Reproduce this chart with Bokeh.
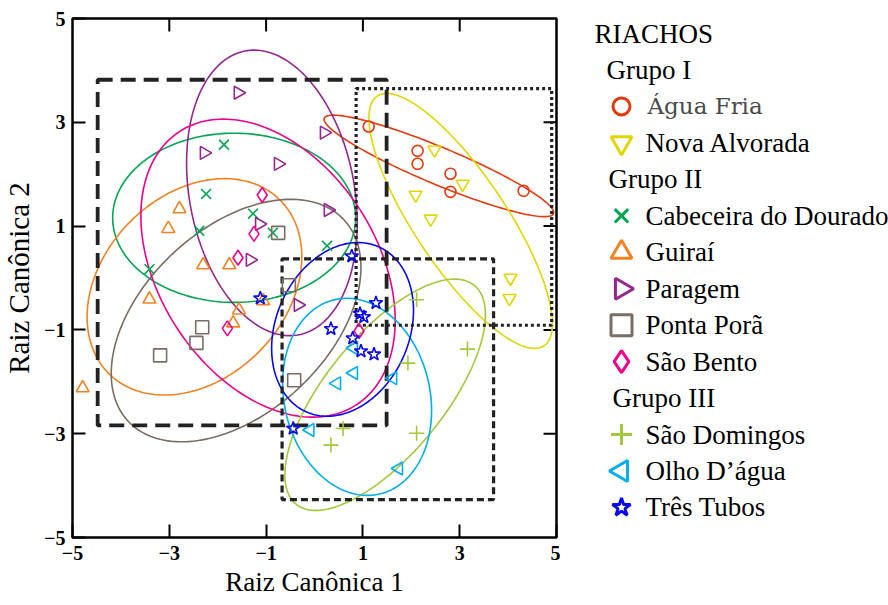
import numpy as np
from bokeh.plotting import figure
from bokeh.models import Range1d, FixedTicker, ColumnDataSource
from bokeh.layouts import row
from bokeh.embed import file_html
from bokeh.resources import INLINE
from bokeh.core.properties import value

# Canonical scores (root 1, root 2) of each sample, by stream
agua_fria_x = [1.12, 2.13, 2.13, 2.81, 2.81, 4.32]
agua_fria_y = [2.92, 2.45, 2.20, 2.01, 1.66, 1.68]
nova_alvorada_x = [2.48, 3.06, 2.09, 2.40, 4.05, 4.03]
nova_alvorada_y = [2.47, 1.81, 1.60, 1.14, 0.00, -0.39]
cabeceira_x = [-1.87, -2.24, -1.27, -2.38, -0.86, 0.26, -3.41]
cabeceira_y = [2.57, 1.62, 1.24, 0.91, 0.87, 0.62, 0.17]
guirai_x = [-2.79, -3.02, -2.30, -1.76, -3.41, -1.56, -1.68, -1.06, -4.79]
guirai_y = [1.33, 0.95, 0.25, 0.25, -0.41, -0.62, -0.87, -0.44, -2.12]
paragem_x = [-1.58, 0.20, -2.28, -0.75, 0.28, -1.14, -1.33, -0.34]
paragem_y = [3.57, 2.80, 2.41, 2.20, 1.31, 1.04, 0.35, -0.52]
ponta_pora_x = [-0.75, -0.53, -2.32, -2.44, -3.19, -0.42]
ponta_pora_y = [0.87, -0.14, -0.95, -1.25, -1.49, -1.97]
sao_bento_x = [-1.08, -1.25, -1.58, -1.80, 0.92]
sao_bento_y = [1.60, 0.85, 0.39, -0.97, -1.02]
sao_domingos_x = [2.11, 3.16, 1.93, 2.11, 0.59, 0.34]
sao_domingos_y = [-0.42, -1.37, -1.64, -2.99, -2.90, -3.22]
olho_dagua_x = [0.81, 0.81, 0.46, 1.62, -0.09, 1.74]
olho_dagua_y = [-1.35, -1.83, -2.03, -1.93, -2.93, -3.67]
tres_tubos_x = [0.77, -1.12, 1.27, 0.94, 1.02, 0.34, 0.79, 0.96, 1.23, -0.44]
tres_tubos_y = [0.42, -0.39, -0.48, -0.69, -0.75, -0.98, -1.16, -1.41, -1.47, -2.90]

# Confidence ellipses: centre x, centre y, semi-major, semi-minor, angle (deg)
ellipse_agua_fria = (2.57, 2.16, 2.54, 0.36, -21.2)
ellipse_nova_alvorada = (3.02, 1.10, 2.96, 0.93, -54.0)
ellipse_cabeceira = (-1.66, 1.16, 2.51, 1.63, 0.0)
ellipse_guirai = (-2.48, -0.17, 2.44, 1.82, 38.7)
ellipse_paragem = (-0.88, 1.64, 2.79, 1.70, -77.8)
ellipse_ponta_pora = (-1.62, -0.82, 2.96, 1.83, 38.6)
ellipse_sao_bento = (-0.96, 0.19, 3.21, 2.20, -52.1)
ellipse_sao_domingos = (1.46, -2.25, 2.80, 1.19, 48.0)
ellipse_olho_dagua = (0.88, -2.29, 1.93, 1.50, -73.5)
ellipse_tres_tubos = (0.58, -0.99, 1.76, 1.36, 60.7)

# Group boxes (left, right, bottom, top)
grupo_i_box = (0.86, 4.90, -0.91, 3.65)
grupo_ii_box = (-4.48, 1.49, -2.84, 3.82)
grupo_iii_box = (-0.67, 3.70, -4.27, 0.37)

tick_values = [-5, -3, -1, 1, 3, 5]
X_MIN, X_MAX, Y_MIN, Y_MAX = -5, 5, -5, 5

HALF_PI = np.pi / 2
series = [
    # name, x, y, marker, angle, colour, ellipse, group
    ("Água Fria", agua_fria_x, agua_fria_y, "circle", 0.0, "#E8380D", ellipse_agua_fria, "Grupo I"),
    ("Nova Alvorada", nova_alvorada_x, nova_alvorada_y, "inverted_triangle", 0.0, "#E3D600", ellipse_nova_alvorada, "Grupo I"),
    ("Cabeceira do Dourado", cabeceira_x, cabeceira_y, "x", 0.0, "#00A650", ellipse_cabeceira, "Grupo II"),
    ("Guiraí", guirai_x, guirai_y, "triangle", 0.0, "#F58220", ellipse_guirai, "Grupo II"),
    ("Paragem", paragem_x, paragem_y, "triangle", -HALF_PI, "#93278F", ellipse_paragem, "Grupo II"),
    ("Ponta Porã", ponta_pora_x, ponta_pora_y, "square", 0.0, "#7B6C64", ellipse_ponta_pora, "Grupo II"),
    ("São Bento", sao_bento_x, sao_bento_y, "diamond", 0.0, "#EC008C", ellipse_sao_bento, "Grupo II"),
    ("São Domingos", sao_domingos_x, sao_domingos_y, "cross", 0.0, "#A3C93A", ellipse_sao_domingos, "Grupo III"),
    ("Olho D’água", olho_dagua_x, olho_dagua_y, "triangle", HALF_PI, "#00AEEF", ellipse_olho_dagua, "Grupo III"),
    ("Três Tubos", tres_tubos_x, tres_tubos_y, "star", 0.0, "#0A0AF0", ellipse_tres_tubos, "Grupo III"),
]

SERIF = "Liberation Serif"
BORDER_TOP, BORDER_BOTTOM = 18, 68
HEIGHT = 605


def ellipse_outline(cx, cy, a, b, angle_deg, n=200):
    t = np.linspace(0, 2 * np.pi, n)
    th = np.radians(angle_deg)
    ex = cx + a * np.cos(t) * np.cos(th) - b * np.sin(t) * np.sin(th)
    ey = cy + a * np.cos(t) * np.sin(th) + b * np.sin(t) * np.cos(th)
    return ex, ey


p = figure(width=560, height=HEIGHT, x_range=Range1d(X_MIN, X_MAX), y_range=Range1d(Y_MIN, Y_MAX),
           output_backend="svg", toolbar_location=None,
           min_border_left=71, min_border_right=4,
           min_border_top=BORDER_TOP, min_border_bottom=BORDER_BOTTOM,
           background_fill_color="white", border_fill_color="white")
p.grid.visible = False
p.outline_line_color = "black"
p.outline_line_width = 2.5
p.outline_line_alpha = 1.0

for ax in (p.xaxis[0], p.yaxis[0]):
    ax.ticker = FixedTicker(ticks=tick_values)
    ax.axis_line_color = None
    ax.major_tick_in = 13
    ax.major_tick_out = 0
    ax.major_tick_line_width = 2
    ax.major_tick_line_color = "black"
    ax.minor_tick_line_color = None
    ax.major_label_text_font = SERIF
    ax.major_label_text_font_style = "bold"
    ax.major_label_text_font_size = "20px"
    ax.major_label_text_color = "black"
    ax.axis_label_text_font = SERIF
    ax.axis_label_text_font_style = "normal"
    ax.axis_label_text_color = "black"

p.xaxis.axis_label = "Raiz Canônica 1"
p.xaxis.axis_label_text_font_size = "27px"
p.xaxis.major_label_standoff = 8
p.xaxis.axis_label_standoff = 4
p.yaxis.axis_label = "Raiz Canônica 2"
p.yaxis.axis_label_text_font_size = "29px"
p.yaxis.major_label_standoff = 7
p.yaxis.axis_label_standoff = 6

# inward tick marks along the top and right edges of the frame
TICK_DX = 13 / 48.5
TICK_DY = 13 / 51.8
inner = [v for v in tick_values if X_MIN < v < X_MAX]
p.segment(x0=inner, x1=inner, y0=[Y_MAX] * len(inner), y1=[Y_MAX - TICK_DY] * len(inner),
          line_color="black", line_width=2)
p.segment(x0=[X_MAX] * len(inner), x1=[X_MAX - TICK_DX] * len(inner), y0=inner, y1=inner,
          line_color="black", line_width=2)

# ellipses first, then group boxes, then samples
for name, xs, ys, marker, ang, color, ell, grp in series:
    ex, ey = ellipse_outline(*ell)
    p.line(ex, ey, line_color=color, line_width=1.6)

box_styles = [(grupo_i_box, "3 3", 3.2), (grupo_ii_box, "15 8", 3.8), (grupo_iii_box, "7 4", 3.2)]
for (l, r, b, t), dash, w in box_styles:
    p.quad(left=[l], right=[r], bottom=[b], top=[t], fill_color=None,
           line_color="#222222", line_width=w, line_dash=dash)

marker_size = {"circle": 11, "star": 14, "x": 14, "cross": 15, "diamond": 15}
for name, xs, ys, marker, ang, color, ell, grp in series:
    p.scatter(xs, ys, marker=marker, angle=ang, size=marker_size.get(marker, 13),
              line_color=color, fill_color=None, line_width=1.6)

# Legend panel: its y axis runs in page pixels, top to bottom
lg = figure(width=328, height=HEIGHT, x_range=Range1d(0, 328),
            y_range=Range1d(HEIGHT - BORDER_BOTTOM, BORDER_TOP),
            output_backend="svg", toolbar_location=None,
            min_border_left=0, min_border_right=0,
            min_border_top=BORDER_TOP, min_border_bottom=BORDER_BOTTOM,
            x_axis_type=None, y_axis_type=None, outline_line_color=None,
            background_fill_color="white", border_fill_color="white")
lg.grid.visible = False

ROW0, STEP = 33, 36.46
rows = [("title", "RIACHOS")]
current = None
for s in series:
    if s[7] != current:
        current = s[7]
        rows.append(("group", current))
    rows.append(("item", s))

head_x = {"RIACHOS": 34, "Grupo I": 46, "Grupo II": 48, "Grupo III": 52}
hx, hy, ht = [], [], []
mk = dict(x=[], y=[], marker=[], angle=[], color=[], size=[])
items = dict(x=[], y=[], text=[], font=[], size=[], color=[])
legend_size = {"circle": 17, "star": 19, "x": 19, "cross": 21, "diamond": 22}
for i, (kind, item) in enumerate(rows):
    y = ROW0 + i * STEP
    if kind in ("title", "group"):
        hx.append(head_x[item]); hy.append(y); ht.append(item)
    else:
        name, _, _, marker, ang, color, _, _ = item
        mk["x"].append(61); mk["y"].append(y); mk["marker"].append(marker)
        mk["angle"].append(ang); mk["color"].append(color)
        mk["size"].append(legend_size.get(marker, 21))
        first = name == series[0][0]
        items["x"].append(87 if first else 85)
        items["y"].append(y)
        items["text"].append(name)
        items["font"].append("DejaVu Serif" if first else SERIF)
        items["size"].append("23px" if first else "27px")
        items["color"].append("#4a4a4a" if first else "black")

lg.text(x=hx, y=hy, text=ht, text_font=value(SERIF), text_font_size="27px",
        text_baseline="middle", text_align="left", text_color="black")
lg.text(x="x", y="y", text="text", text_font="font", text_font_size="size",
        text_color="color", text_baseline="middle", text_align="left",
        source=ColumnDataSource(items))
lg.scatter(x="x", y="y", marker="marker", angle="angle", size="size", line_color="color",
           fill_color=None, line_width=3, source=ColumnDataSource(mk))

layout = row(p, lg, spacing=0)
open("out.html", "w").write(file_html(layout, INLINE))
